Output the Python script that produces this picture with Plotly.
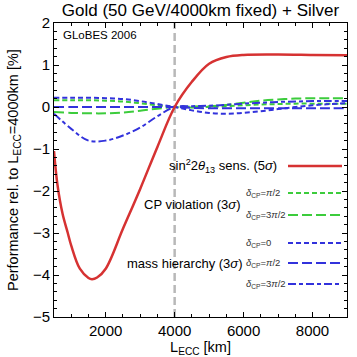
import plotly.graph_objects as go

# baseline length of the Gold detector (fixed)
L_fixed = 4000

# sin^2 2theta13 sensitivity (5 sigma), own grid because of the steep start
L_th13 = [500, 600, 750, 900, 1000, 1250, 1500, 1600, 1750, 2000, 2500, 3000,
          3500, 4000, 4500, 5000, 5500, 6000, 7000, 8000, 9000]
th13 = [-1.05, -1.85, -2.55, -3.0, -3.3, -3.85, -4.07, -4.1, -4.06, -3.85, -2.9, -1.95,
        -0.95, 0.0, 0.6, 1.03, 1.19, 1.24, 1.25, 1.24, 1.23]

L = [500, 1000, 1500, 2000, 2500, 3000, 3500, 4000, 4500, 5000, 5500, 6000,
     6500, 7000, 7500, 8000, 8500, 9000]

# CP violation (3 sigma)
cpv_pi2 = [0.16, 0.16, 0.16, 0.15, 0.13, 0.09, 0.04, 0.0, -0.01, 0.0, 0.02, 0.04,
           0.06, 0.07, 0.08, 0.08, 0.08, 0.08]
cpv_3pi2 = [-0.12, -0.14, -0.15, -0.15, -0.13, -0.09, -0.04, 0.0, 0.01, 0.02, 0.05, 0.1,
            0.15, 0.18, 0.2, 0.21, 0.21, 0.21]

# mass hierarchy (3 sigma)
mh_0 = [0.22, 0.22, 0.22, 0.21, 0.19, 0.14, 0.07, 0.0, -0.08, -0.14, -0.16, -0.14,
        -0.1, -0.05, 0.0, 0.04, 0.07, 0.09]
mh_pi2 = [0.0, 0.0, 0.0, 0.0, 0.0, 0.0, 0.0, 0.0, -0.02, -0.03, -0.03, -0.03,
          -0.03, -0.03, -0.03, -0.03, -0.03, -0.03]
mh_3pi2 = [-0.16, -0.52, -0.8, -0.8, -0.68, -0.49, -0.22, 0.0, 0.02, 0.03, 0.05, 0.08,
           0.1, 0.12, 0.13, 0.14, 0.14, 0.14]

RED = '#d63232'
GREEN = '#3ccc3c'
BLUE = '#3232dc'
SHORT = '5px,3px'
LONG = '10px,4px'
DASHDOT = '8px,3px,4px,3px'

curves = [
    (L, cpv_pi2, GREEN, SHORT),
    (L, cpv_3pi2, GREEN, LONG),
    (L, mh_0, BLUE, SHORT),
    (L, mh_pi2, BLUE, LONG),
    (L, mh_3pi2, BLUE, DASHDOT),
    (L_th13, th13, RED, 'solid'),
]

fig = go.Figure()
fig.add_vline(x=L_fixed, line=dict(color='#b8b8b8', width=2.5, dash='8px,4px'), layer='below')

for xs, ys, col, dash in curves:
    fig.add_trace(go.Scatter(x=xs, y=ys, mode='lines', line_shape='spline',
                             line=dict(color=col, width=2.5 if dash == 'solid' else 2, dash=dash),
                             showlegend=False, hoverinfo='skip'))

# hand made legend (paper coordinates of the plot area)
x0, x1 = 54, 347
y0, y1 = 23, 317


def px(x):
    return (x - x0) / (x1 - x0)


def py(y):
    return (y1 - y) / (y1 - y0)


legend = [
    (166, RED, 'solid'),
    (193, GREEN, SHORT),
    (215, GREEN, LONG),
    (243, BLUE, SHORT),
    (263, BLUE, LONG),
    (284, BLUE, DASHDOT),
]
for ypix, col, dash in legend:
    fig.add_shape(type='line', xref='paper', yref='paper', x0=px(288), x1=px(342),
                  y0=py(ypix), y1=py(ypix),
                  line=dict(color=col, width=2.5 if dash == 'solid' else 2, dash=dash))

font_main = 'Liberation Sans, Arial, sans-serif'
big_labels = [
    (279, 166, 'sin<sup>2</sup>2<i>θ</i><sub>13</sub> sens. (5<i>σ</i>)'),
    (243, 204, 'CP violation (3<i>σ</i>)'),
    (245, 263, 'mass hierarchy (3<i>σ</i>)'),
]
for xpix, ypix, txt in big_labels:
    fig.add_annotation(x=px(xpix), y=py(ypix), xref='paper', yref='paper', text=txt,
                       showarrow=False, xanchor='right', yanchor='middle',
                       font=dict(size=13, color='black', family=font_main))

small_labels = [
    (193, '<i>δ</i><sub>CP</sub>=<i>π</i>/2'),
    (215, '<i>δ</i><sub>CP</sub>=3<i>π</i>/2'),
    (243, '<i>δ</i><sub>CP</sub>=0'),
    (263, '<i>δ</i><sub>CP</sub>=<i>π</i>/2'),
    (284, '<i>δ</i><sub>CP</sub>=3<i>π</i>/2'),
]
for ypix, txt in small_labels:
    fig.add_annotation(x=px(244), y=py(ypix), xref='paper', yref='paper', text=txt,
                       showarrow=False, xanchor='left', yanchor='middle',
                       font=dict(size=9.5, color='#333333', family=font_main))

fig.add_annotation(x=px(61), y=py(35), xref='paper', yref='paper', text='GLoBES 2006',
                   showarrow=False, xanchor='left', yanchor='middle',
                   font=dict(size=11.5, color='black', family=font_main))

# y axis title as a rotated annotation so it can be placed freely
fig.add_annotation(x=px(14), y=py(170), xref='paper', yref='paper',
                   text='Performance rel. to L<sub>ECC</sub>=4000km [%]', textangle=-90,
                   showarrow=False, xanchor='center', yanchor='middle',
                   font=dict(size=14.5, color='black', family=font_main))

axis_common = dict(showline=True, linecolor='black', linewidth=1, mirror='allticks',
                   ticks='inside', ticklen=5, tickcolor='black', showgrid=False,
                   zeroline=False, automargin=False,
                   tickfont=dict(size=15, color='black', family=font_main))

fig.update_layout(
    width=357, height=357,
    margin=dict(l=54, r=10, t=23, b=40),
    paper_bgcolor='white', plot_bgcolor='white',
    font=dict(family=font_main, color='black'),
    title=dict(text='Gold (50 GeV/4000km fixed) + Silver', x=0.5, xref='paper',
               y=1 - 10 / 357, yref='container', yanchor='middle', xanchor='center',
               font=dict(size=17, color='black')),
    xaxis=dict(range=[500, 9000], tickvals=[2000, 4000, 6000, 8000],
               minor=dict(ticks='inside', dtick=500, tick0=0, ticklen=3, tickcolor='black'),
               title=dict(text='L<sub>ECC</sub> [km]', standoff=0, font=dict(size=14.5)),
               **axis_common),
    yaxis=dict(range=[-5, 2], dtick=1, tick0=0,
               minor=dict(ticks='inside', dtick=0.2, tick0=0, ticklen=3, tickcolor='black'),
               **axis_common),
)

# the page body has a default 8px margin; drop it so the figure sits at the window corner
fig.write_html("out.html", config={'displayModeBar': False},
               post_script="document.body.style.margin='0';")
